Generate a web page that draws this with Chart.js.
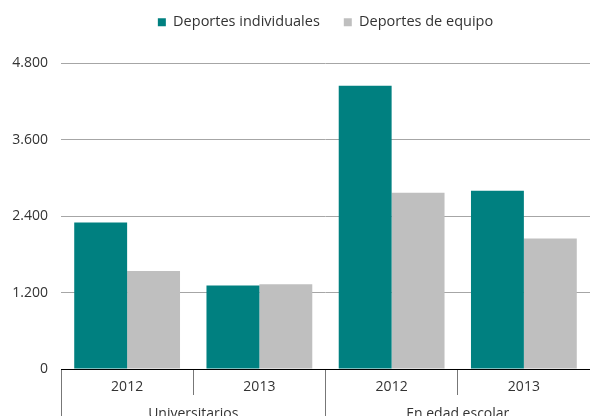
<!DOCTYPE html>
<html lang="es">
<head>
<meta charset="utf-8">
<title>Deportes individuales y de equipo</title>
<script src="https://cdn.jsdelivr.net/npm/chart.js@4/dist/chart.umd.min.js"></script>
<style>
    html, body { margin: 0; padding: 0; background: #fff; }
    #wrap { width: 590px; height: 416px; position: relative; }
</style>
</head>
<body>
<div id="wrap"><canvas id="sportsChart"></canvas></div>
<script>
// Chart data
const years = ['2012', '2013', '2012', '2013'];
const groups = ['Universitarios', 'En edad escolar'];
const individuales = [2300, 1310, 4450, 2800];
const equipo = [1540, 1330, 2770, 2050];
const yTicks = [0, 1200, 2400, 3600, 4800];

const teal = '#008080';
const grey = '#bfbfbf';
const textColor = '#333333';
const fontFamily = "'Open Sans', sans-serif";

// Thousands with a dot, like 4.800
function formatNumber(value) {
    return String(value).replace(/\B(?=(\d{3})+(?!\d))/g, '.');
}

// Give the legend some extra room below it
const legendSpacer = {
    id: 'legendSpacer',
    beforeInit(chart) {
        const origFit = chart.legend.fit;
        chart.legend.fit = function fit() {
            origFit.bind(chart.legend)();
            this.height += 24;
        };
    }
};

document.addEventListener('DOMContentLoaded', () => {
    renderSportsChart();
});

function renderSportsChart() {
    const el = document.getElementById('sportsChart');

    if (el.chart) {
        el.chart.destroy();
    }

    const data = {
        labels: years,
        datasets: [{
            label: 'Deportes individuales',
            data: individuales,
            backgroundColor: teal,
            borderWidth: 0,
            categoryPercentage: 0.8,
            barPercentage: 1.0
        }, {
            label: 'Deportes de equipo',
            data: equipo,
            backgroundColor: grey,
            borderWidth: 0,
            categoryPercentage: 0.8,
            barPercentage: 1.0
        }]
    };

    el.chart = new Chart(el, {
        type: 'bar',
        data: data,
        plugins: [legendSpacer],
        options: {
            responsive: true,
            maintainAspectRatio: false,
            animation: false,
            layout: {
                padding: { top: -9, left: 8, right: 0, bottom: 0 }
            },
            scales: {
                y: {
                    min: 0,
                    max: 4800,
                    afterBuildTicks: function(axis) {
                        axis.ticks = yTicks.map(v => ({ value: v }));
                    },
                    afterFit: function(axis) {
                        axis.width = 53;
                    },
                    grid: {
                        color: '#a6a6a6',
                        drawTicks: false
                    },
                    border: { display: false },
                    ticks: {
                        padding: 13,
                        color: textColor,
                        font: { family: fontFamily, size: 14 },
                        callback: function(value) {
                            return formatNumber(value);
                        }
                    }
                },
                x: {
                    offset: true,
                    afterFit: function(axis) {
                        axis.height = 23;
                    },
                    grid: {
                        offset: true,
                        drawOnChartArea: false,
                        tickLength: 26,
                        color: '#777777'
                    },
                    border: { display: true, color: '#000000', width: 1 },
                    ticks: {
                        padding: -16,
                        maxRotation: 0,
                        color: textColor,
                        font: { family: fontFamily, size: 14 }
                    }
                },
                x2: {
                    type: 'category',
                    position: 'bottom',
                    labels: groups,
                    offset: true,
                    afterFit: function(axis) {
                        axis.height = 24;
                    },
                    grid: {
                        offset: true,
                        drawOnChartArea: false,
                        tickLength: 24,
                        color: '#777777'
                    },
                    border: { display: false },
                    ticks: {
                        padding: -10,
                        maxRotation: 0,
                        autoSkip: false,
                        color: textColor,
                        font: { family: fontFamily, size: 14 }
                    }
                }
            },
            plugins: {
                legend: {
                    position: 'top',
                    fullSize: false,
                    labels: {
                        boxWidth: 8,
                        boxHeight: 8,
                        padding: 24,
                        color: textColor,
                        font: { family: fontFamily, size: 14.5 }
                    }
                },
                tooltip: {
                    callbacks: {
                        label: function(context) {
                            return `${context.dataset.label}: ${formatNumber(context.raw)}`;
                        }
                    }
                }
            }
        }
    });
}
</script>
</body>
</html>
